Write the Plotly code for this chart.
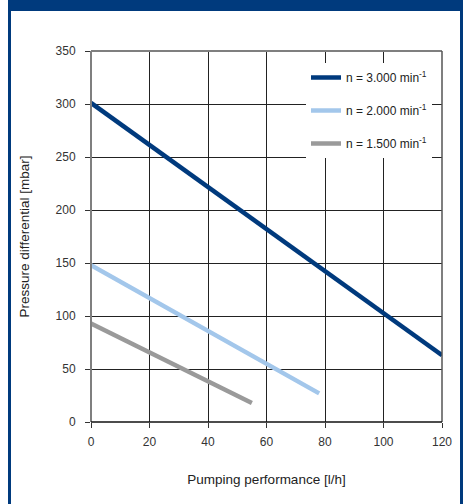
import plotly.graph_objects as go

# ---- data ----
flow_3000 = [0, 120]
dp_3000 = [301, 63]
flow_2000 = [0, 78]
dp_2000 = [148, 27]
flow_1500 = [0, 55]
dp_1500 = [93, 18]

series_names = ["n = 3.000 min<sup>-1</sup>", "n = 2.000 min<sup>-1</sup>", "n = 1.500 min<sup>-1</sup>"]
x_ticks = [0, 20, 40, 60, 80, 100, 120]
y_ticks = [0, 50, 100, 150, 200, 250, 300, 350]
x_title = "Pumping performance [l/h]"
y_title = "Pressure differential [mbar]"

W, H = 467, 504
L, R, T, B = 91, 25, 51, 82
PW, PH = W - L - R, H - T - B
FONT = "Liberation Sans, Arial, sans-serif"
NAVY = "#003a7d"


def px_x(p):
    return (p - L) / PW


def px_y(p):
    return 1 - (p - T) / PH


fig = go.Figure()
colors = [NAVY, "#a3c7eb", "#9a9a9a"]
for i, (xs, ys) in enumerate([(flow_3000, dp_3000), (flow_2000, dp_2000), (flow_1500, dp_1500)]):
    fig.add_trace(go.Scatter(x=xs, y=ys, mode="lines", name=series_names[i],
                             legendgroup=f"g{i}",
                             line=dict(color=colors[i], width=4.5)))

shapes = []
# outer frame: header band and side borders
shapes.append(dict(type="rect", xref="paper", yref="paper",
                   x0=px_x(8), x1=px_x(463), y0=px_y(0), y1=px_y(11),
                   fillcolor=NAVY, line=dict(width=0), layer="below"))
shapes.append(dict(type="rect", xref="paper", yref="paper",
                   x0=px_x(8), x1=px_x(11), y0=px_y(0), y1=px_y(504),
                   fillcolor=NAVY, line=dict(width=0), layer="below"))
shapes.append(dict(type="rect", xref="paper", yref="paper",
                   x0=px_x(460), x1=px_x(463), y0=px_y(0), y1=px_y(504),
                   fillcolor=NAVY, line=dict(width=0), layer="below"))
# plot frame: gray top/left/right, black bottom
shapes.append(dict(type="line", xref="paper", yref="paper", x0=0, x1=1, y0=1, y1=1,
                   line=dict(color="#7f7f7f", width=2)))
shapes.append(dict(type="line", xref="paper", yref="paper", x0=0, x1=0, y0=0, y1=1,
                   line=dict(color="#7f7f7f", width=2)))
shapes.append(dict(type="line", xref="paper", yref="paper", x0=1, x1=1, y0=0, y1=1,
                   line=dict(color="#555555", width=1.5)))
shapes.append(dict(type="line", xref="paper", yref="paper", x0=0, x1=1, y0=0, y1=0,
                   line=dict(color="#111111", width=1.5)))

fig.update_layout(
    width=W, height=H,
    margin=dict(l=L, r=R, t=T, b=B),
    paper_bgcolor="white", plot_bgcolor="white",
    font=dict(family=FONT, size=12, color="#222222"),
    showlegend=True,
    legend=dict(x=px_x(432), xanchor="right", y=px_y(63), yanchor="top",
                bgcolor="white", borderwidth=0, tracegroupgap=14,
                font=dict(family=FONT, size=12, color="#222222"),
                traceorder="grouped"),
    shapes=shapes,
    xaxis=dict(range=[0, 120], tickvals=x_ticks, showgrid=True, gridcolor="#222222", gridwidth=1,
               zeroline=False, showline=False, ticks="outside", ticklen=5, tickcolor="#333333",
               ticklabelstandoff=4,
               tickfont=dict(family=FONT, size=12, color="#333333"),
               title=dict(text=x_title, font=dict(family=FONT, size=13.5, color="#222222"), standoff=26),
               fixedrange=True),
    yaxis=dict(range=[0, 350], tickvals=y_ticks, showgrid=True, gridcolor="#222222", gridwidth=1,
               zeroline=False, showline=False, ticks="outside", ticklen=5, tickcolor="#333333",
               ticklabelstandoff=7,
               tickfont=dict(family=FONT, size=12, color="#333333"),
               title=dict(text=y_title, font=dict(family=FONT, size=13.5, color="#222222"), standoff=22),
               fixedrange=True),
)

fig.write_html("out.html", config={"displayModeBar": False},
               post_script="document.body.style.margin='0';")
